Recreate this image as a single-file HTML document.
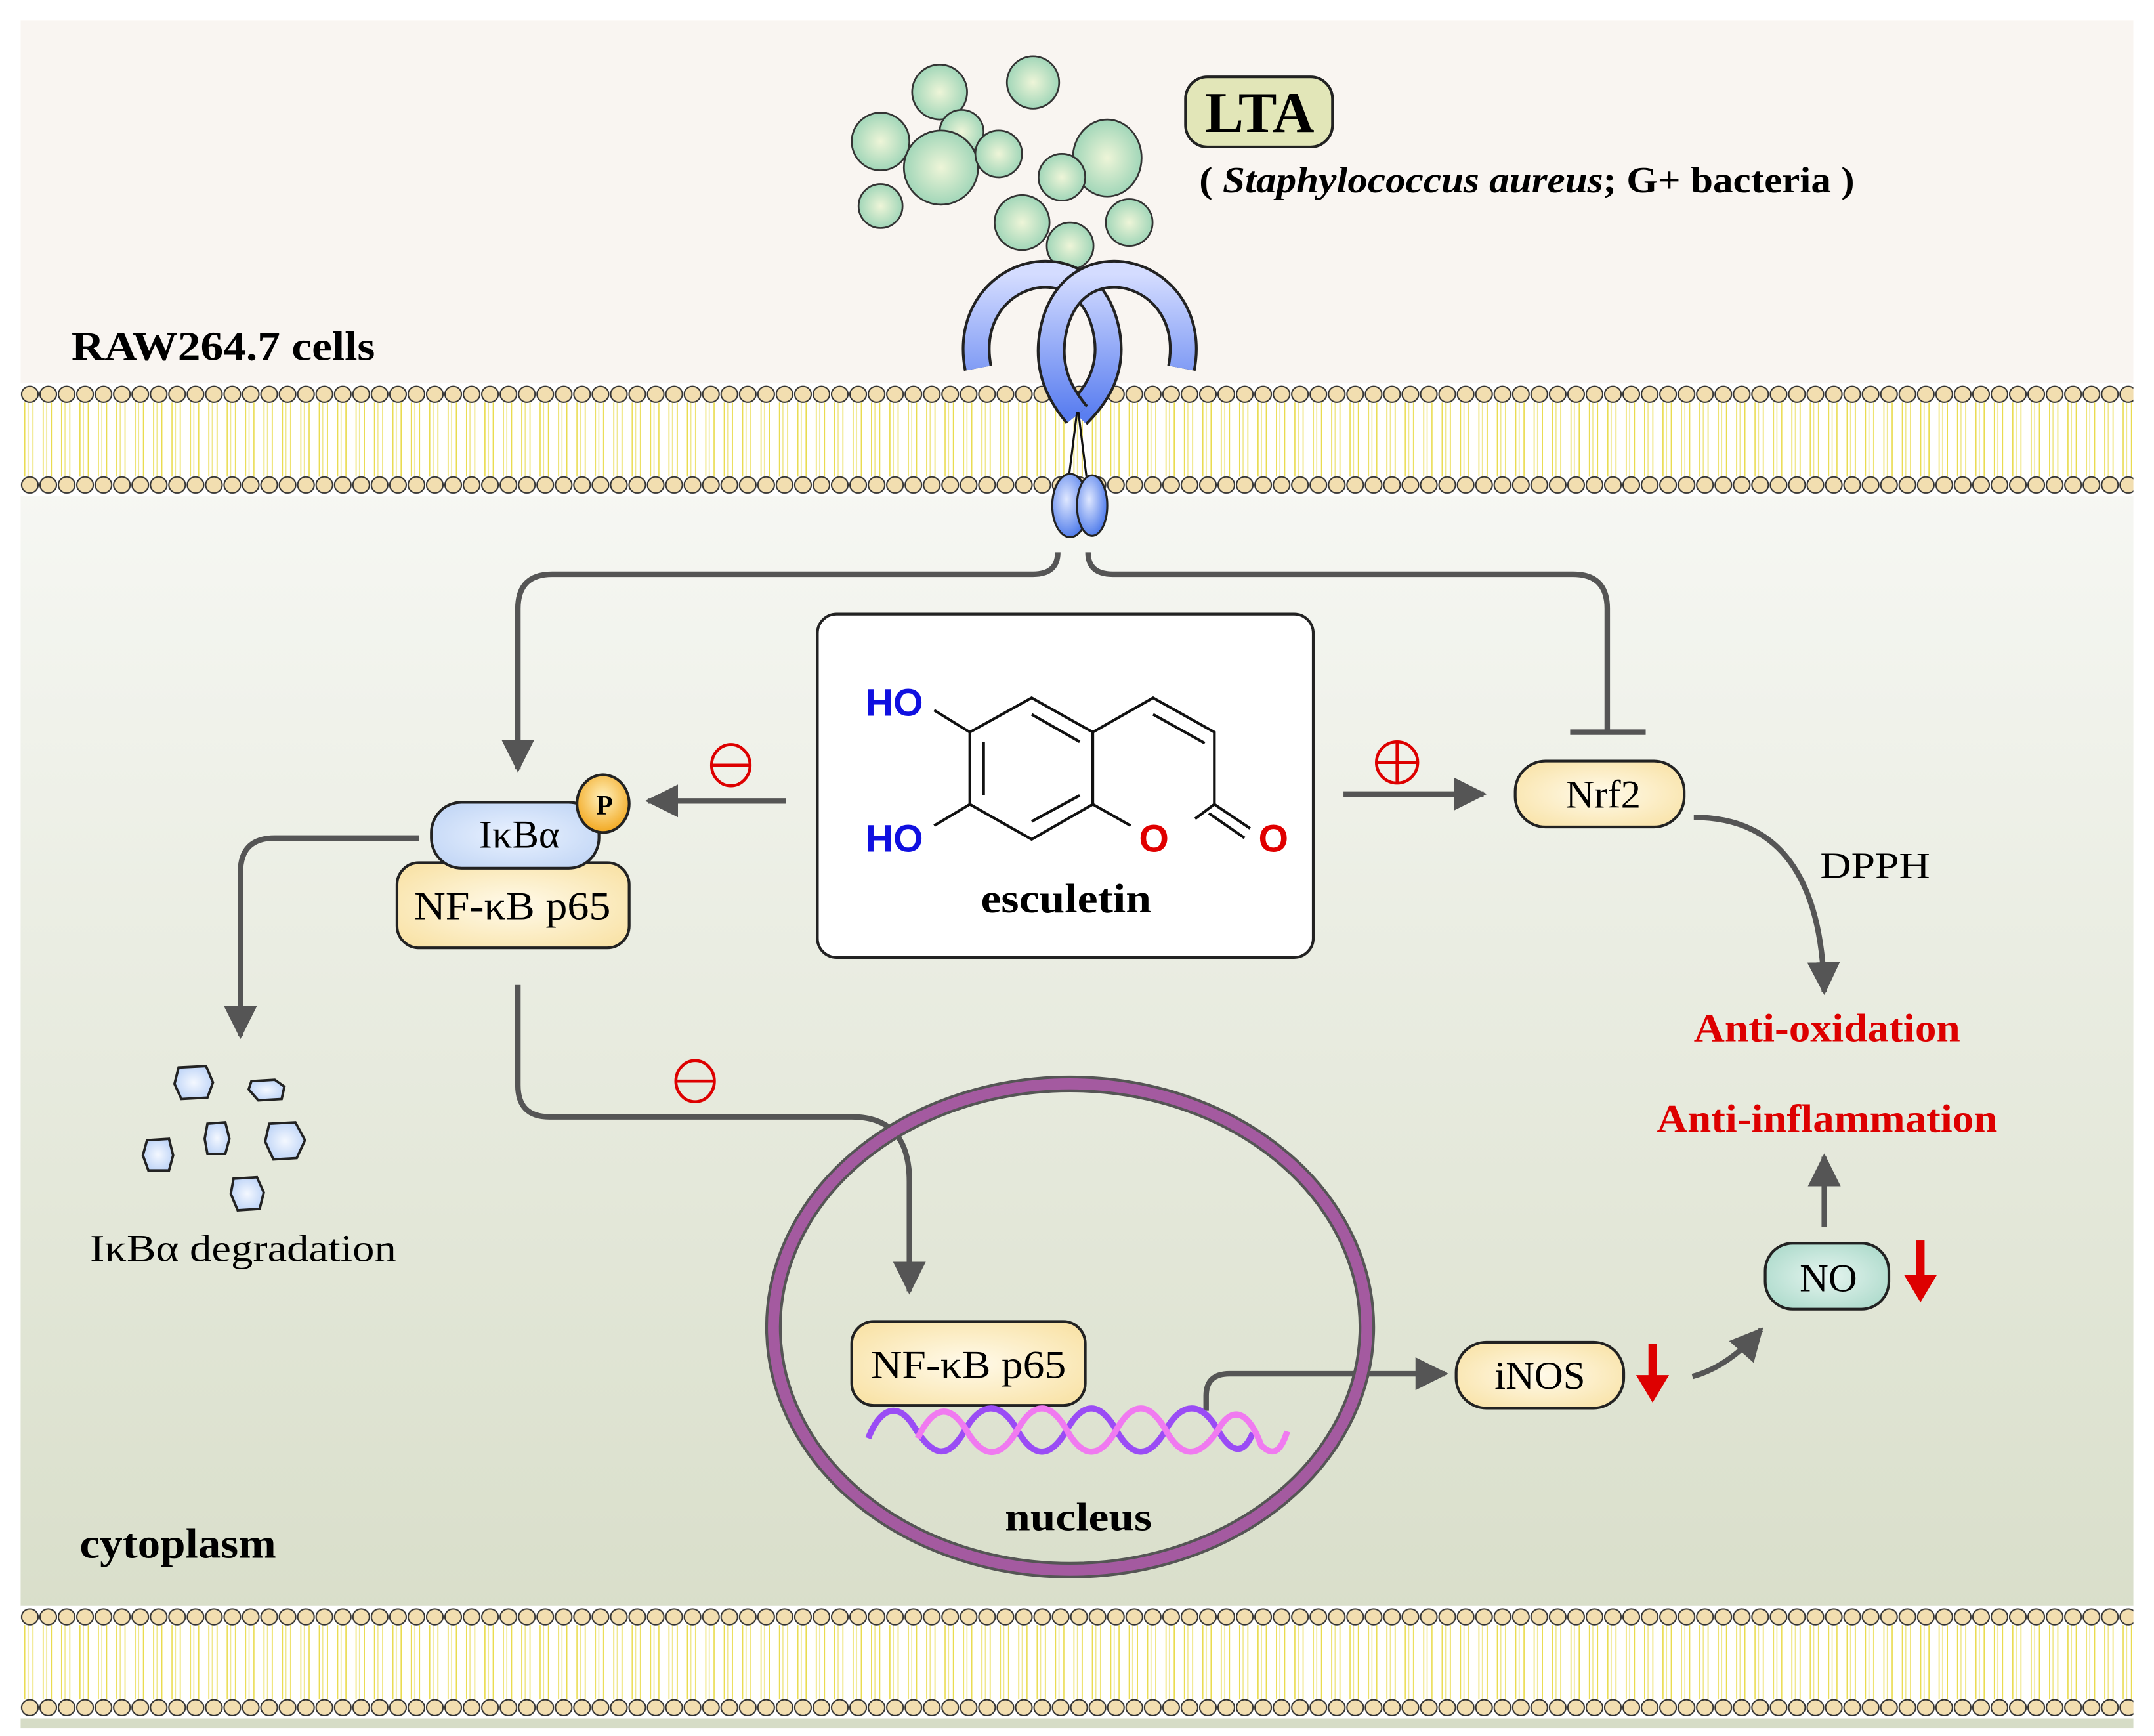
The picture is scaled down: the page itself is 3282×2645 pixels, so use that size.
<!DOCTYPE html>
<html><head><meta charset="utf-8"><style>html,body{margin:0;padding:0;background:#fff}svg{display:block}</style></head>
<body>
<svg width="3282" height="2645" viewBox="0 0 1568 1263.7" xmlns="http://www.w3.org/2000/svg" font-family="'Liberation Serif', serif">
<defs>
<linearGradient id="cyto" x1="0" y1="0" x2="0" y2="1">
<stop offset="0" stop-color="#f6f7f3"/><stop offset="1" stop-color="#d6dcc6"/></linearGradient>
<pattern id="mem" x="15" y="279" width="13.4" height="82" patternUnits="userSpaceOnUse">
<rect width="13.4" height="82" fill="#fff"/>
<line x1="3" y1="14" x2="3" y2="68" stroke="#eadc50" stroke-width="0.8"/>
<line x1="5.5" y1="14" x2="5.5" y2="68" stroke="#f0e890" stroke-width="0.8"/>
<line x1="9" y1="14" x2="9" y2="68" stroke="#eadc50" stroke-width="0.8"/>
<ellipse cx="6.7" cy="8" rx="6" ry="5.8" fill="#f2deb0" stroke="#333" stroke-width="1"/>
<ellipse cx="6.7" cy="74" rx="6" ry="5.8" fill="#f2deb0" stroke="#333" stroke-width="1"/>
</pattern>
<pattern id="mem2" x="15" y="1169" width="13.4" height="82" patternUnits="userSpaceOnUse">
<rect width="13.4" height="82" fill="#fff"/>
<line x1="3" y1="14" x2="3" y2="68" stroke="#eadc50" stroke-width="0.8"/>
<line x1="5.5" y1="14" x2="5.5" y2="68" stroke="#f0e890" stroke-width="0.8"/>
<line x1="9" y1="14" x2="9" y2="68" stroke="#eadc50" stroke-width="0.8"/>
<ellipse cx="6.7" cy="8" rx="6" ry="5.8" fill="#f2deb0" stroke="#333" stroke-width="1"/>
<ellipse cx="6.7" cy="74" rx="6" ry="5.8" fill="#f2deb0" stroke="#333" stroke-width="1"/>
</pattern>
<radialGradient id="bac" cx="0.5" cy="0.5" r="0.6"><stop offset="0" stop-color="#eef5d8"/><stop offset="1" stop-color="#92d0b2"/></radialGradient>
<linearGradient id="rec" x1="0" y1="0" x2="0" y2="1"><stop offset="0" stop-color="#d4dcff"/><stop offset="1" stop-color="#5a7ef0"/></linearGradient>
<radialGradient id="oval" cx="0.4" cy="0.4" r="0.7"><stop offset="0" stop-color="#e0e8ff"/><stop offset="1" stop-color="#3d6ee8"/></radialGradient>
<radialGradient id="yel" cx="0.5" cy="0.5" r="0.7"><stop offset="0" stop-color="#fffaea"/><stop offset="1" stop-color="#f8e0a0"/></radialGradient>
<radialGradient id="blu" cx="0.5" cy="0.5" r="0.7"><stop offset="0" stop-color="#eaf2ff"/><stop offset="1" stop-color="#bcd2f4"/></radialGradient>
<radialGradient id="teal" cx="0.5" cy="0.5" r="0.7"><stop offset="0" stop-color="#e6f5ef"/><stop offset="1" stop-color="#a4d6c6"/></radialGradient>
<radialGradient id="org" cx="0.5" cy="0.4" r="0.6"><stop offset="0" stop-color="#fff2c0"/><stop offset="1" stop-color="#f2a820"/></radialGradient>
<radialGradient id="frag" cx="0.5" cy="0.5" r="0.6"><stop offset="0" stop-color="#f4f8ff"/><stop offset="1" stop-color="#b8d0f6"/></radialGradient>
<marker id="ah" viewBox="0 0 10 10" refX="9" refY="5" markerWidth="6" markerHeight="6" markerUnits="strokeWidth" orient="auto"><path d="M0,0 L10,5 L0,10 z" fill="#555"/></marker>
</defs>

<rect x="15" y="15" width="1538" height="270" fill="#f9f5f1"/>
<rect x="15" y="355" width="1538" height="903" fill="url(#cyto)"/>
<rect x="15" y="279" width="1538" height="82" fill="url(#mem)"/>
<rect x="15" y="1169" width="1538" height="82" fill="url(#mem2)"/>

<!-- bacteria -->
<g fill="url(#bac)" stroke="#333" stroke-width="1.3">
<circle cx="641" cy="103" r="21"/><circle cx="684" cy="67" r="20"/><circle cx="752" cy="60" r="19"/>
<circle cx="700" cy="96" r="16"/><circle cx="685" cy="122" r="27"/><circle cx="727" cy="112" r="17"/>
<ellipse cx="806" cy="115" rx="25" ry="28"/><circle cx="773" cy="129" r="17"/><circle cx="641" cy="150" r="16"/>
<circle cx="744" cy="162" r="20"/><circle cx="822" cy="162" r="17"/><circle cx="779" cy="179" r="17"/>
</g>
<rect x="863" y="56" width="107" height="51" rx="16" fill="#e2e6b8" stroke="#222" stroke-width="2"/>
<text x="917" y="96" text-anchor="middle" font-size="42" font-weight="bold">LTA</text>
<text x="873" y="140" font-size="27" font-weight="bold" textLength="477" lengthAdjust="spacingAndGlyphs">( <tspan font-style="italic">Staphylococcus aureus</tspan>; G+ bacteria )</text>
<text x="52" y="262" font-size="30" font-weight="bold" textLength="221" lengthAdjust="spacingAndGlyphs">RAW264.7 cells</text>

<!-- receptor -->
<g fill="none" stroke-linecap="butt">
<path d="M712,268 C698,195 795,170 806,245 C810,272 796,290 784,302" stroke="#222" stroke-width="21"/>
<path d="M712,268 C698,195 795,170 806,245 C810,272 796,290 784,302" stroke="url(#rec)" stroke-width="17"/>
<path d="M860,268 C874,195 777,170 766,245 C762,272 774,290 784,302" stroke="#222" stroke-width="21"/>
<path d="M860,268 C874,195 777,170 766,245 C762,272 774,290 784,302" stroke="url(#rec)" stroke-width="17"/>
</g>
<line x1="784" y1="300" x2="778" y2="348" stroke="#111" stroke-width="1.5"/>
<line x1="785" y1="300" x2="791" y2="348" stroke="#111" stroke-width="1.5"/>
<ellipse cx="779" cy="368" rx="13" ry="23" fill="url(#oval)" stroke="#222" stroke-width="1.5"/>
<ellipse cx="795" cy="368" rx="11" ry="22" fill="url(#oval)" stroke="#222" stroke-width="1.5"/>

<g fill="none" stroke="#555" stroke-width="4">
<path d="M770,402 Q770,418 752,418 L402,418 Q377,418 377,443 L377,560" marker-end="url(#ah)"/>
<path d="M792,402 Q792,418 810,418 L1145,418 Q1170,418 1170,443 L1170,532"/>
<line x1="1143" y1="533" x2="1198" y2="533"/>
<path d="M572,583 L472,583" marker-end="url(#ah)"/>
<path d="M978,578 L1080,578" marker-end="url(#ah)"/>
<path d="M1233,595 Q1325,595 1328,722" marker-end="url(#ah)"/>
<path d="M1328,893 L1328,842" marker-end="url(#ah)"/>
<path d="M1232,1002 Q1258,995 1282,968" marker-end="url(#ah)"/>
<path d="M305,610 L200,610 Q175,610 175,635 L175,754" marker-end="url(#ah)"/>
<path d="M377,717 L377,790 Q377,813 400,813 L620,813 Q662,813 662,860 L662,940" marker-end="url(#ah)"/>
<path d="M878,1027 L878,1016 Q878,1000 895,1000 L1052,1000" marker-end="url(#ah)"/>
</g>

<!-- symbols -->
<g fill="none" stroke="#d00" stroke-width="2.2">
<ellipse cx="532" cy="557" rx="14" ry="15"/><line x1="518" y1="557" x2="546" y2="557"/>
<ellipse cx="506" cy="787" rx="14" ry="15"/><line x1="492" y1="787" x2="520" y2="787"/>
<ellipse cx="1017" cy="555" rx="15" ry="15"/><line x1="1002" y1="555" x2="1032" y2="555"/><line x1="1017" y1="540" x2="1017" y2="570"/>
</g>

<!-- esculetin box -->
<rect x="595" y="447" width="361" height="250" rx="14" fill="#fff" stroke="#222" stroke-width="2"/>
<g stroke="#111" stroke-width="2" fill="none">
<path d="M706,533 L751,508 L795.5,533 L795.5,585.5 L751,611 L706,585.5 Z"/>
<line x1="751" y1="520" x2="786" y2="540"/><line x1="716" y1="540" x2="716" y2="579"/><line x1="751" y1="598" x2="786" y2="579"/>
<path d="M795.5,533 L839.4,508 L884,533 L884,585.5 L870,596"/>
<line x1="839.4" y1="520" x2="877" y2="541"/>
<line x1="795.5" y1="585.5" x2="823" y2="601"/>
<line x1="884" y1="585.5" x2="910" y2="603"/><line x1="880" y1="592" x2="906" y2="610"/>
<line x1="706" y1="533" x2="680" y2="517"/><line x1="706" y1="585.5" x2="680" y2="601"/>
</g>
<g font-family="'Liberation Sans', sans-serif" font-weight="bold" font-size="28">
<text x="651" y="521" text-anchor="middle" fill="#1010e0">HO</text>
<text x="651" y="620" text-anchor="middle" fill="#1010e0">HO</text>
<text x="840" y="620" text-anchor="middle" fill="#e00000">O</text>
<text x="927" y="620" text-anchor="middle" fill="#e00000">O</text>
</g>
<text x="776" y="664" text-anchor="middle" font-size="30" font-weight="bold" textLength="124" lengthAdjust="spacingAndGlyphs">esculetin</text>

<!-- nodes -->
<rect x="289" y="628" width="169" height="62" rx="16" fill="url(#yel)" stroke="#222" stroke-width="2"/>
<text x="373" y="669" text-anchor="middle" font-size="29" textLength="143" lengthAdjust="spacingAndGlyphs">NF-κB p65</text>
<rect x="314" y="584" width="122" height="48" rx="22" fill="url(#blu)" stroke="#222" stroke-width="2"/>
<text x="378" y="617" text-anchor="middle" font-size="29">IκBα</text>
<ellipse cx="439" cy="585" rx="19" ry="21" fill="url(#org)" stroke="#222" stroke-width="2"/>
<text x="440" y="593" text-anchor="middle" font-size="20" font-weight="bold">P</text>

<rect x="1103" y="554" width="123" height="48" rx="22" fill="url(#yel)" stroke="#222" stroke-width="2"/>
<text x="1167" y="588" text-anchor="middle" font-size="29">Nrf2</text>
<text x="1325" y="639" font-size="27" textLength="80" lengthAdjust="spacingAndGlyphs">DPPH</text>
<g fill="#d00" font-weight="bold" font-size="29" text-anchor="middle">
<text x="1330" y="758" textLength="194" lengthAdjust="spacingAndGlyphs">Anti-oxidation</text>
<text x="1330" y="824" textLength="248" lengthAdjust="spacingAndGlyphs">Anti-inflammation</text>
</g>
<rect x="1285" y="905" width="90" height="48" rx="20" fill="url(#teal)" stroke="#222" stroke-width="2"/>
<text x="1331" y="940" text-anchor="middle" font-size="29">NO</text>
<rect x="1060" y="977" width="122" height="48" rx="22" fill="url(#yel)" stroke="#222" stroke-width="2"/>
<text x="1121" y="1011" text-anchor="middle" font-size="29">iNOS</text>
<g fill="#d00"><rect x="1395" y="903" width="6" height="30"/><path d="M1386,928 L1410,928 L1398,948 Z"/>
<rect x="1200" y="978" width="6" height="30"/><path d="M1191,1001 L1215,1001 L1203,1021 Z"/></g>

<!-- fragments -->
<g fill="url(#frag)" stroke="#222" stroke-width="1.8">
<path d="M130,777 L150,776 L155,788 L151,799 L132,800 L127,789 Z"/>
<path d="M183,787 L200,786 L207,791 L205,800 L188,801 L181,793 Z"/>
<path d="M107,830 L123,829 L126,841 L123,852 L108,852 L104,841 Z"/>
<path d="M151,818 L164,817 L167,829 L164,840 L151,840 L149,829 Z"/>
<path d="M196,818 L215,817 L222,830 L216,843 L199,844 L193,831 Z"/>
<path d="M170,858 L187,857 L192,868 L189,880 L173,881 L168,869 Z"/>
</g>
<text x="177" y="918" text-anchor="middle" font-size="28" textLength="223" lengthAdjust="spacingAndGlyphs">IκBα degradation</text>

<!-- nucleus -->
<ellipse cx="779" cy="966" rx="216" ry="177" fill="none" stroke="#555" stroke-width="12"/>
<ellipse cx="779" cy="966" rx="216" ry="177" fill="none" stroke="#a45aa0" stroke-width="8"/>
<rect x="620" y="962" width="170" height="61" rx="16" fill="url(#yel)" stroke="#222" stroke-width="2"/>
<text x="705" y="1003" text-anchor="middle" font-size="29" textLength="142" lengthAdjust="spacingAndGlyphs">NF-κB p65</text>
<path d="M632,1047 C642,1022 655,1022 665,1038 C680,1062 690,1062 702,1042 C714,1020 728,1020 740,1040 C752,1062 764,1062 776,1042 C788,1020 800,1020 812,1040 C824,1062 836,1062 848,1042 C860,1020 874,1020 886,1040 C896,1058 905,1060 912,1043" fill="none" stroke="#9a4cf5" stroke-width="4.5"/>
<path d="M668,1047 C680,1022 692,1022 704,1042 C716,1062 728,1062 740,1042 C752,1020 764,1020 776,1040 C788,1062 800,1062 812,1042 C824,1020 836,1020 848,1040 C860,1062 872,1062 886,1042 C898,1020 910,1030 918,1052 C926,1060 932,1058 937,1042" fill="none" stroke="#f07af0" stroke-width="4.5"/>
<text x="785" y="1114" text-anchor="middle" font-size="29" font-weight="bold" textLength="107" lengthAdjust="spacingAndGlyphs">nucleus</text>
<text x="58" y="1134" font-size="31" font-weight="bold" textLength="143" lengthAdjust="spacingAndGlyphs">cytoplasm</text>
</svg>
</body></html>
